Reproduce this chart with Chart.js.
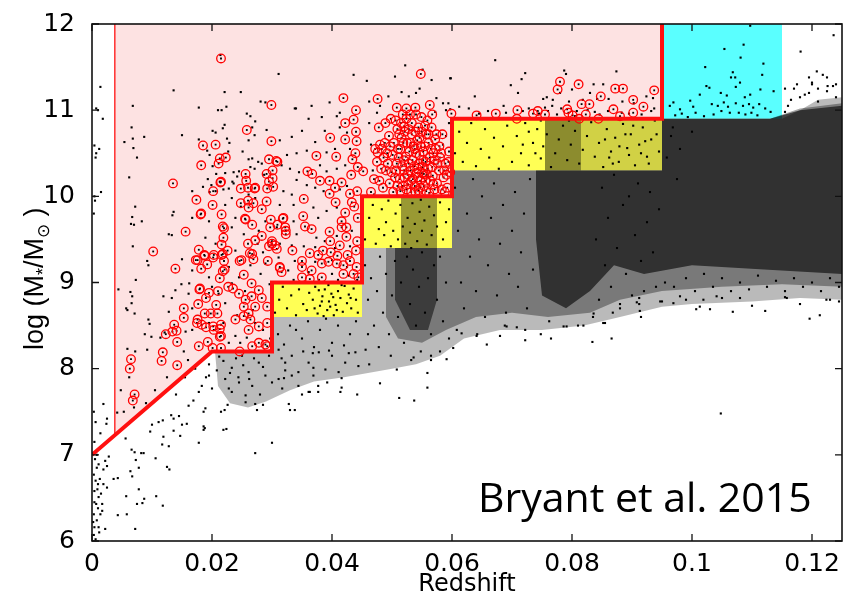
<!DOCTYPE html>
<html><head><meta charset="utf-8">
<script src="https://cdn.jsdelivr.net/npm/chart.js@4"></script>
<style>html,body{margin:0;padding:0;background:#fff}#wrap{width:852px;height:596px;position:relative}</style>
</head><body><div id="wrap"><canvas id="c"></canvas></div>
<script>
// ---------- axis ticks ----------
const redshiftTicks = [0, 0.02, 0.04, 0.06, 0.08, 0.1, 0.12];
const xTickLabels = ['0', '0.02', '0.04', '0.06', '0.08', '0.1', '0.12'];
const massTicks = [6, 7, 8, 9, 10, 11, 12];
const yTickLabels = ['6', '7', '8', '9', '10', '11', '12'];

// ---------- selection limit (red stepped line) ----------
const limitZ = [0, 0.02, 0.03, 0.03, 0.045, 0.045, 0.06, 0.06, 0.095, 0.095];
const limitM = [7, 8.2, 8.2, 9, 9, 10, 10, 10.9, 10.9, 12];
// pink selection region
const pinkZ = [0.0038, 0.0038, 0.02, 0.03, 0.03, 0.045, 0.045, 0.06, 0.06, 0.095, 0.095, 0.0038];
const pinkM = [12, 7.23, 8.2, 8.2, 9, 9, 10, 10, 10.9, 10.9, 12, 12];
const edgeZ = [0.0038, 0.0038];
const edgeM = [7.23, 12];
// filler boxes [z0, z1, m0, m1]
const yellowBoxes = [[0.03, 0.045, 8.6, 9.0], [0.045, 0.06, 9.4, 10.0], [0.06, 0.095, 10.3, 10.9]];
const cyanBox = [0.095, 0.115, 10.9, 12];

// ---------- density envelopes of the parent sample ----------
const outerEnv = [[0.0205,8.2],[0.03,8.2],[0.03,8.6],[0.045,8.6],[0.045,9.4],[0.06,9.4],[0.06,10.3],[0.095,10.3],[0.095,10.9],[0.115,10.9],[0.118,11.0],[0.121,11.12],[0.125,11.15],
  [0.125,8.8],[0.118,8.82],[0.11,8.78],[0.1,8.75],[0.095,8.72],[0.088,8.6],[0.082,8.5],[0.075,8.45],[0.068,8.45],[0.062,8.35],[0.058,8.15],[0.054,8.05],[0.05,8.0],[0.046,7.95],[0.042,7.9],[0.037,7.85],[0.033,7.75],[0.029,7.62],[0.026,7.55],[0.023,7.6],[0.021,7.8]];
const midEnv = [[0.049,9.4],[0.06,9.4],[0.06,10.3],[0.095,10.3],[0.095,10.9],[0.113,10.9],[0.118,11.02],[0.125,11.08],
  [0.125,8.95],[0.115,8.98],[0.105,8.95],[0.095,8.9],[0.088,8.8],[0.083,8.65],[0.076,8.6],[0.07,8.65],[0.064,8.6],[0.059,8.45],[0.055,8.3],[0.051,8.35],[0.049,8.6]];
const innerRight = [[0.074,10.3],[0.095,10.3],[0.095,10.9],[0.113,10.9],[0.118,11.0],[0.125,11.05],
  [0.125,9.1],[0.112,9.15],[0.1,9.2],[0.092,9.1],[0.087,9.2],[0.083,8.9],[0.079,8.7],[0.075,8.85],[0.074,9.5]];
const innerCol54 = [[0.0505,9.4],[0.0575,9.4],[0.0575,8.8],[0.056,8.45],[0.053,8.45],[0.0505,8.8]];
const yellowCol54 = [[0.0515,9.4],[0.0575,9.4],[0.0575,10.0],[0.0515,10.0]];
const yellowCol78 = [[0.0755,10.3],[0.0815,10.3],[0.0815,10.9],[0.0755,10.9]];
const yellowRight = [[0.0815,10.3],[0.095,10.3],[0.095,10.9],[0.0815,10.9]];

// ---------- individual galaxies (black) ----------
const galaxies = [
[.0003,6.77],[.0006,6.70],[.001,6.66],[.0004,6.58],[.0011,6.51],[.0007,6.43],[.0017,6.43],[.0003,6.31],[.0008,6.24],[.0004,6.16],[.0003,6.07],[.0011,6.16],[.0022,6.14],[.0014,6.31],[.0019,6.66],[.0025,6.62],[.0022,6.93],[.0011,6.89],[.0025,6.87],[.0028,6.98],[.0019,6.83],[.0005,6.95],[.0008,6.85],[.0015,6.55],[.0004,6.45],[.001,6.38],[.0017,6.35],[.0006,6.02],[.0012,6.1],[.0002,6.22],[.0009,6.6],[.0013,6.72],[.0006,7.38],[.0019,7.59],[.0025,7.42],[.0024,7.36],[.0004,7.15],[.0008,7.0],[.0014,7.25],[.0003,7.5],
[.0014,11.27],[.0007,11.02],[.0004,10.59],[.0007,10.5],[.0004,10.0],[.0012,10.55],[.0003,9.8],[.0005,9.95],[.0015,10.05],[.0006,10.45],[.001,11.0],[.0018,10.9],
[.0043,6.73],[.0036,6.72],[.0043,6.30],[.0057,6.52],[.0064,6.81],[.0067,6.75],[.0073,6.94],[.0078,6.60],[.0072,6.14],[.0075,6.43],[.0084,6.44],[.0087,6.49],[.0086,7.02],[.0082,7.02],[.0106,6.96],[.0107,6.52],[.0118,6.41],[.0117,7.12],[.0129,6.83],[.0125,6.86],[.0128,7.10],[.0097,7.27],[.0119,7.21],[.0136,7.28],[.0147,7.22],[.0150,7.35],[.0158,7.36],[.0186,7.33],[.0186,7.29],[.0178,7.14],[.0186,7.50],[.0169,7.63],[.0178,7.73],[.0161,7.57],[.0136,7.42],[.0145,7.45],[.0132,7.46],[.0111,7.38],[.0118,7.40],[.0100,7.35],[.0056,7.19],[.0066,7.06],[.0071,7.03],[.0053,7.50],[.0042,7.49],[.0078,6.85],[.0058,6.31],[.0062,7.9],[.0048,7.75],[.0070,7.55],[.0090,7.6],[.0105,7.75],[.0125,7.9],[.0140,7.7],[.0155,7.9],[.0172,8.0],[.0160,8.1],[.0190,7.9],[.0195,8.05],
[.0072,9.88],[.0067,9.76],[.0065,9.68],[.0070,9.67],[.0083,9.71],[.0068,9.42],[.0092,9.25],[.0094,9.20],[.0073,9.03],[.0044,8.92],[.0064,8.89],[.0067,8.84],[.0066,8.76],[.0059,8.68],[.0071,8.64],[.0057,8.70],[.0094,8.57],[.0096,8.52],[.0088,8.40],[.0099,8.37],[.0059,8.23],[.0072,8.20],[.0114,8.36],[.0119,8.84],[.0133,8.82],[.0136,9.82],[.0134,9.78],[.0128,9.56],[.0133,9.55],[.0150,9.27],[.0149,8.98],[.0139,8.91],[.0162,8.99],[.0128,8.66],[.0156,8.43],[.0167,8.45],[.0153,8.20],[.0092,8.22],[.0121,8.42],
[.0068,11.05],[.0066,10.80],[.0068,10.67],[.0054,10.63],[.0087,10.69],[.0069,10.56],[.0075,10.45],[.0062,10.22],[.0136,11.23],[.0150,10.71],[.0178,11.03],[.0210,11.0],[.0216,11.0],[.0221,11.21],[.0224,11.04],[.0248,11.21],[.0221,10.83],[.0218,10.79],[.0206,10.74],[.0214,11.64],[.0258,10.96],[.0264,10.93],[.0272,10.87],[.0267,10.80],[.0271,10.71],[.0261,10.65],[.0281,11.10],[.0289,11.09],[.0291,10.77],[.0178,10.66],[.0192,10.53],[.0196,10.48],[.0201,10.76],[.0225,10.67],[.0229,10.62],[.0227,10.52],[.0251,10.52],[.0261,10.43],[.0267,10.44],[.0264,10.34],[.0277,10.40],[.0271,10.32],[.0283,10.38],[.0287,10.25],[.0245,10.29],[.0236,10.28],[.0222,10.27],[.0207,10.26],[.0213,10.17],[.0234,10.17],[.0242,10.23],[.0201,10.35],[.0193,10.2],[.0185,10.11],[.0199,10.13],[.0196,10.05],[.0219,10.08],[.0228,10.09],[.0236,10.15],
[.0233,8.99],[.0245,9.06],[.0228,9.18],[.0239,9.37],[.0253,9.56],[.0233,9.64],[.0239,9.75],[.0222,9.90],[.0233,9.98],[.0261,10.02],[.0272,9.98],[.0289,9.71],[.0278,9.60],[.0289,9.22],[.0281,9.10],[.0272,8.53],[.0239,8.38],[.0228,8.30],[.0247,8.30],[.0219,8.53],[.0222,8.76],[.0211,8.87],[.0200,8.95],[.0195,9.06],[.0167,9.14],[.0161,8.87],[.0167,8.70],[.0195,8.53],[.0206,9.45],[.0189,9.52],[.0195,9.71],[.0206,10.06],[.0167,9.75],[.0167,10.06],[.0255,8.9],[.0268,8.68],[.0285,8.45],[.0297,8.35],[.0242,8.62],[.0258,8.36],[.0285,9.35],[.0264,9.2],[.0296,8.98],[.0248,9.88],[.0276,9.45],
[.0219,8.09],[.0233,8.01],[.0250,8.15],[.0261,7.96],[.0278,8.07],[.0289,7.92],[.0267,7.80],[.0256,7.69],[.0256,7.61],[.0233,7.73],[.0222,7.88],[.0208,7.98],[.0200,7.77],[.0189,7.54],[.0188,7.31],[.0221,7.52],[.0226,7.58],[.0215,7.50],[.0219,7.29],[.0224,7.30],[.0272,7.59],[.0285,7.58],[.0275,7.52],[.0300,7.14],[.0272,7.02],[.0300,7.84],[.0295,8.15],[.0245,7.84],[.0244,7.9],[.0228,7.77],[.0195,7.92],[.0183,7.80],[.0240,8.12],[.0270,8.12],[.0285,8.02],[.0262,7.88],[.0212,8.14],[.0230,7.95],[.0252,8.04],[.0280,7.7],
[.0311,8.22],[.0322,8.07],[.0333,8.15],[.0344,7.96],[.0361,8.07],[.0378,8.19],[.0389,7.99],[.0400,8.15],[.0411,7.96],[.0422,8.07],[.0439,8.19],[.0444,8.03],[.0456,8.22],[.0344,7.80],[.0361,7.73],[.0414,7.73],[.0442,7.70],[.0328,7.59],[.0330,7.52],[.0338,7.52],[.0350,7.70],[.0363,7.73],[.0377,7.73],[.0416,7.78],[.0333,7.92],[.0311,7.88],[.0317,7.77],[.0392,7.84],[.0369,7.92],[.0322,7.98],[.0320,7.89],[.0369,8.01],[.0416,7.89],[.0377,7.80],[.0316,8.12],[.0352,8.2],[.0368,8.18],[.0395,8.21],[.0428,8.18],
[.031,8.4],[.033,8.5],[.035,8.35],[.036,8.55],[.038,8.45],[.040,8.3],[.041,8.5],[.043,8.4],[.044,8.55],[.032,8.28],[.037,8.25],[.042,8.27],[.039,8.58],[.034,8.45],
[.0305,8.65],[.0312,8.8],[.0318,8.95],[.0325,8.7],[.0332,8.85],[.034,8.62],[.0345,8.92],[.0352,8.75],[.0358,8.68],[.0362,8.88],[.0368,8.8],[.0372,8.95],[.0376,8.64],[.038,8.73],[.0384,8.84],[.0388,8.92],[.0392,8.68],[.0395,8.78],[.0399,8.87],[.0403,8.62],[.0406,8.74],[.041,8.9],[.0414,8.82],[.0418,8.66],[.0421,8.96],[.0425,8.76],[.0428,8.86],[.0432,8.7],[.0436,8.93],[.044,8.8],[.0443,8.65],[.0386,8.61],[.0378,8.91],[.0394,8.97],[.0402,8.83],[.0371,8.7],[.0383,8.78],[.0408,8.68],[.0416,8.97],[.0431,8.82],[.0397,8.72],
[.0311,11.42],[.0458,11.34],[.0436,11.41],[.0338,11.02],[.0361,10.90],[.0383,10.92],[.0388,10.76],[.0350,10.76],[.0333,10.69],[.0313,10.65],[.0408,10.93],[.0413,10.80],[.0425,10.74],[.0372,10.63],[.0358,10.53],[.0341,10.50],[.0325,10.48],[.0316,10.36],[.0330,10.32],[.0345,10.28],[.0380,10.36],[.0391,10.29],[.0408,10.32],[.0422,10.36],[.0391,10.51],[.0405,10.55],[.0430,10.55],[.0341,10.19],[.0358,10.13],[.0372,10.10],[.0386,10.06],[.0413,10.08],[.0425,10.12],[.0319,10.06],[.0333,10.02],[.0313,9.90],[.0336,9.90],[.0369,9.87],[.0391,9.83],[.0408,9.87],[.0377,9.75],[.0336,9.71],[.0308,9.64],[.0341,9.56],[.0374,9.52],[.0388,9.48],[.0408,9.54],[.0433,9.60],[.0313,9.45],[.0333,9.43],[.0353,9.42],[.0372,9.41],[.0405,9.40],[.0430,9.42],[.0311,9.29],[.0338,9.25],[.0372,9.24],[.0400,9.26],[.0425,9.18],[.0327,9.14],[.0361,9.12],[.0400,9.10],[.0428,9.08],[.0336,9.03],[.0378,9.03],[.0410,9.03],[.0442,9.03],[.0340,11.02],[.0366,11.05],[.0396,11.09],[.0413,10.97],[.0505,11.39],[.0566,11.35],[.0597,11.37],[.0546,11.25],[.0540,11.20],[.0516,11.21],[.0528,11.16],[.0494,11.16],[.0475,10.97],[.0574,11.14],[.0585,11.08],[.0522,11.52],[.0551,11.47],[.0672,11.58],[.0480,11.05],[.0462,11.1],[.0590,11.0],[.0572,10.98],[.0468,10.3],[.0465,10.6],[.0462,10.85],[.059,10.7],[.0595,10.85],[.0585,10.6],[.047,10.02],
[.0455,9.5],[.0462,9.75],[.0468,9.9],[.0473,9.45],[.0478,9.62],[.0483,9.85],[.0487,9.55],[.049,9.7],[.0494,9.95],[.0498,9.42],[.0502,9.6],[.0506,9.8],[.051,9.5],[.0514,9.9],[.0518,9.65],[.0522,9.45],[.0526,9.75],[.053,9.58],[.0534,9.92],[.0538,9.68],[.0542,9.48],[.0546,9.82],[.055,9.6],[.0554,9.72],[.0558,9.44],[.0562,9.88],[.0566,9.55],[.057,9.78],[.0575,9.65],[.058,9.93],[.0585,9.5],[.059,9.7],[.0595,9.85],[.0548,9.96],[.0532,9.4],
[.0455,9.2],[.046,8.8],[.0465,9.05],[.047,8.5],[.0475,8.9],[.048,9.3],[.0485,8.65],[.049,9.1],[.0495,8.4],[.05,8.85],[.0505,9.25],[.051,8.6],[.0515,9.0],[.052,8.3],[.0525,9.3],[.053,8.75],[.0535,9.15],[.054,8.5],[.0545,8.95],[.055,9.35],[.0555,8.65],[.056,9.05],[.0565,8.4],[.057,9.2],[.0575,8.8],[.058,9.3],[.0585,8.55],[.059,9.0],[.0595,8.35],[.0548,8.2],[.0532,8.1],[.0565,8.15],[.0498,8.15],[.0478,8.25],[.046,8.4],
[.0605,10.1],[.061,9.6],[.0615,9.0],[.062,8.7],[.0625,9.8],[.063,9.3],[.0635,10.2],[.064,8.9],[.0645,9.5],[.065,10.0],[.0655,8.6],[.066,9.2],[.0665,9.75],[.067,10.15],[.0675,8.85],[.068,9.45],[.0685,9.9],[.069,8.65],[.0695,9.1],[.07,9.6],[.0705,10.05],[.071,8.95],[.0715,9.35],[.072,9.8],[.0725,8.7],[.073,10.2],[.0735,9.15],[.084,9.5],[.0845,8.8],[.085,10.1],[.0855,9.2],[.086,9.75],[.0865,8.95],[.087,10.25],[.0875,9.4],[.088,8.75],[.0885,9.9],[.089,9.1],[.0895,10.0],[.09,8.85],[.0905,9.55],[.091,10.15],[.0915,9.25],[.092,8.9],[.0925,9.7],[.093,10.05],[.0935,9.35],[.094,8.95],[.0945,9.85],[.0608,8.45],[.0642,8.4],[.0688,8.5],[.0722,8.45],[.0762,8.55],[.081,8.5],[.0835,8.6],[.0868,8.65],[.0912,8.75],
[.0605,10.5],[.0612,10.75],[.0618,10.4],[.0625,10.62],[.0632,10.85],[.064,10.35],[.0648,10.55],[.0655,10.78],[.0662,10.45],[.067,10.68],[.0678,10.32],[.0685,10.58],[.0692,10.82],[.07,10.4],[.0708,10.7],[.0715,10.5],[.0722,10.85],[.0728,10.36],[.0735,10.62],[.0742,10.78],[.0748,10.44],[.0752,10.58],[.0758,10.72],[.0765,10.34],[.0772,10.5],[.0778,10.66],[.0785,10.82],[.0792,10.42],[.0798,10.6],[.0805,10.76],[.0812,10.38],[.0818,10.54],[.0825,10.7],[.0832,10.86],[.0838,10.46],[.0845,10.62],[.0852,10.34],[.0858,10.78],[.0865,10.52],[.0872,10.68],[.0878,10.4],[.0885,10.84],[.0892,10.56],[.0898,10.72],[.0905,10.36],[.0912,10.6],[.0918,10.8],[.0925,10.46],[.0932,10.66],[.0938,10.88],[.0945,10.52],[.0842,10.9],[.0868,10.38],[.0895,10.48],[.0922,10.64],[.0748,10.88],[.0795,10.88],[.0718,10.6],[.0728,10.75],[.0739,10.5],[.0862,10.45],[.0879,10.58],[.0902,10.82],[.0928,10.38],[.0941,10.72],[.0855,10.66],[.0889,10.72],[.0915,10.5],
[.0598,11.37],[.0638,11.16],[.0698,11.29],[.0710,11.20],[.0722,11.43],[.0716,11.36],[.0752,11.13],[.0758,11.15],[.0768,11.12],[.0787,11.46],[.0790,11.42],[.0800,11.24],[.0830,11.20],[.0836,11.30],[.0852,11.30],[.0842,11.13],[.0861,11.13],[.0874,11.45],[.0884,11.10],[.0903,11.08],[.0924,11.16],[.0935,11.14],[.0937,11.02],[.0597,11.01],[.0594,11.08],[.0612,11.04],[.0628,11.02],[.0645,10.96],[.0660,10.99],[.0686,11.05],[.0690,10.97],[.0718,10.99],[.0728,11.02],[.0745,10.96],[.0760,10.99],[.0767,11.05],[.0782,11.02],[.0808,10.99],[.0826,11.0],[.0838,10.98],[.0860,10.99],[.0883,10.97],[.0895,10.96],[.0916,10.95],[.0932,10.99],[.0780,11.20],[.0795,11.10],[.0775,10.95],[.0805,10.93],[.0818,11.12],[.0846,10.95],[.0755,11.03],
[.1054,11.71],[.1086,11.76],[.1081,11.61],[.1022,11.50],[.1119,11.54],[.1068,11.44],[.1065,11.38],[.1072,11.38],[.1080,11.32],[.1073,11.27],[.1024,11.28],[.1029,11.26],[.1117,11.41],[.1136,11.22],[.1114,11.24],[.1097,11.18],[.1088,11.15],[.1058,11.17],[.1048,11.20],[.1013,11.18],[.0997,11.11],[.0969,11.09],[.0963,11.05],[.0980,11.01],[.1002,11.04],[.1033,11.07],[.1043,11.05],[.1053,11.09],[.1060,11.04],[.1073,11.08],[.1085,11.05],[.1095,11.07],[.1102,11.03],[.1112,11.07],[.1122,11.02],[.1131,10.98],[.1006,10.97],[.1036,10.95],[.1049,10.99],[.1063,10.97],[.1078,10.97],[.1089,10.95],[.1099,10.97],[.1109,10.94],[.1020,10.93],[.0983,10.96],[.0993,10.92],[.0972,10.94],[.1181,11.68],[.1236,11.87],[.1208,11.45],[.1218,11.41],[.1195,11.38],[.1240,11.30],[.1200,11.30],[.1175,11.30],[.1155,11.25],[.1210,11.25],[.1226,11.28],[.1188,11.18],[.1165,11.12],[.1097,11.98],
[.0955,9.0],[.097,8.95],[.099,9.05],[.1005,8.9],[.102,9.1],[.1035,8.95],[.105,9.05],[.1065,8.9],[.108,9.0],[.1095,8.92],[.111,9.08],[.1125,8.95],[.114,9.02],[.1155,8.9],[.117,9.05],[.1185,8.95],[.12,9.0],[.1215,8.9],[.123,9.05],[.1245,8.95],[.116,11.05],[.118,11.15],[.1195,11.2],[.121,11.1],[.1225,11.22],[.124,11.15],[.117,11.25],[.1235,11.28],[.12,11.32],[.1225,11.38],[.1155,10.98],[.0965,10.7],[.098,10.55],[.0968,10.8],[.1,10.75],[.0958,10.45],[.0975,10.2],
[.0480,7.83],[.0512,7.66],[.0537,7.63],[.0559,7.78],[.0559,7.95],[.0508,7.99],[.0462,8.05],[.0591,8.11],[.0580,8.20],[.0565,8.1],[.0536,8.13],[.0722,8.33],[.0658,8.28],[.0641,8.38],[.0616,8.41],[.0602,8.24],[.0691,8.49],[.0708,8.48],[.0786,8.49],[.0834,8.31],[.0866,8.35],[.1196,8.58],[.1213,8.62],[.1048,7.48],[.1122,8.67],[.1068,8.66],[.1030,8.69],[.1007,8.69],[.0947,8.78],[.0913,8.67],[.0852,8.53],[.0819,8.50],[.0791,8.49],[.1155,8.83],[.1224,8.80],[.1245,8.78],[.1080,8.82],[.1050,8.82],[.1019,8.80],[.0980,8.84],[.0912,8.82],[.0880,8.70],[.0836,8.64],[.1013,8.72],[.0969,8.76],[.0950,8.78],[.0908,8.77],[.0915,8.6],[.0855,8.53],[.1158,8.82],[.1230,8.80],[.1180,8.75],[.1100,8.73],[.1041,8.84],[.0990,8.8],[.0748,8.4],[.0765,8.35],[.0680,8.38]
];

// ---------- selected (red circled) galaxies ----------
const selected = [
[.0215,11.60],[.0258,10.77],[.0299,11.06],[.0185,10.59],[.0206,10.60],[.0223,10.45],[.0213,10.44],[.0211,10.38],[.0182,10.36],[.0135,10.15],[.0214,10.16],[.0256,10.26],[.0257,10.18],[.0248,10.09],[.0260,10.10],[.0271,10.09],[.0202,10.06],[.0292,10.09],[.0295,10.43],[.0291,10.26],[.0299,10.64],[.0295,10.17],
[.0174,9.96],[.0201,9.90],[.0181,9.79],[.0156,9.59],[.0102,9.36],[.0139,9.16],[.0216,9.79],[.0218,9.65],[.0219,9.52],[.0255,9.74],[.0261,9.87],[.0283,9.85],[.0283,9.54],[.0260,9.45],[.0267,9.33],[.0295,9.42],[.0178,9.38],[.0187,9.32],[.0192,9.21],[.0182,9.16],[.0173,9.26],[.0203,9.32],[.0216,9.32],[.0226,9.37],[.0218,9.13],[.0246,9.25],[.0253,9.09],[.0179,8.92],[.0190,8.82],[.0177,8.75],[.0207,8.74],[.0209,8.64],[.0198,8.64],[.0153,8.70],[.0153,8.59],[.0134,8.43],[.0141,8.44],[.0142,8.31],[.0118,8.19],[.0065,8.11],[.0176,8.57],[.0183,8.51],[.0190,8.48],[.0203,8.45],[.0213,8.37],[.0213,8.46],[.0193,8.31],[.0178,8.26],[.0201,8.24],[.0215,8.24],[.0239,8.57],[.0253,8.61],[.0264,8.57],[.0261,8.45],[.0278,8.49],[.0292,8.53],[.0278,8.30],[.0267,8.26],[.0246,8.20],[.0292,8.26],[.0266,8.99],[.0278,8.91],[.0283,8.82],[.0266,8.84],[.0292,8.72],[.0272,8.72],[.0256,8.80],[.0261,8.64],[.0245,8.87],[.0253,8.72],
[.0063,8.00],[.0116,8.09],[.0142,8.04],[.0071,7.70],[.0068,7.63],[.0289,8.28],[.0123,8.40],[.0137,8.51],[.0175,8.53],[.0188,8.64],[.0202,8.49],[.0215,8.51],[.0215,8.38],
[.0182,9.80],[.0215,10.17],[.0307,10.41],[.0301,10.30],[.0301,10.21],[.0302,10.11],[.0272,10.10],[.0248,9.92],[.0260,9.95],[.0269,9.92],[.0291,9.94],[.0256,9.73],[.0267,9.67],[.0298,9.73],[.0297,9.64],[.0309,9.67],[.0319,9.75],[.0323,9.60],[.0272,9.49],[.0300,9.45],[.0308,9.39],[.0334,9.37],[.0249,9.26],[.0263,9.34],[.0269,9.27],[.0293,9.25],[.0313,9.18],[.0221,9.15],[.0220,9.25],[.0218,9.33],[.0216,9.44],[.0220,9.63],[.0176,9.26],[.0188,9.31],[.0202,9.29],[.0213,9.05],[.0227,8.95],[.0180,8.93],[.0195,8.88],[.0210,8.9],[.0235,8.93],
[.0548,11.42],[.0419,11.14],[.0476,11.13],[.0508,11.03],[.0524,11.02],[.0539,11.03],[.0563,11.06],[.0599,10.96],[.0440,11.00],[.0436,10.89],[.0422,10.85],[.0440,10.75],[.0422,10.66],[.0397,10.68],[.0441,10.64],[.0520,10.81],[.0374,10.47],[.0407,10.46],[.0439,10.50],[.0434,10.43],[.0476,10.51],[.0483,10.55],[.0309,10.40],[.0359,10.29],[.0367,10.26],[.0380,10.18],[.0396,10.18],[.0416,10.16],[.0432,10.25],[.0443,10.34],[.0452,10.29],[.0442,10.06],[.0430,10.03],[.0396,10.03],[.0405,10.10],[.0353,9.97],[.0406,9.93],[.0433,9.93],[.0422,9.81],[.0437,9.88],[.0443,9.75],[.0416,9.71],[.0416,9.64],[.0424,9.64],[.0352,9.77],[.0355,9.65],[.0366,9.62],[.0318,9.74],[.0322,9.64],[.0323,9.56],[.0396,9.59],[.0424,9.53],[.0442,9.48],[.0397,9.48],[.0413,9.43],[.0363,9.34],[.0377,9.32],[.0385,9.37],[.0398,9.35],[.0409,9.31],[.0426,9.32],[.0440,9.37],[.0350,9.25],[.0350,9.18],[.0366,9.14],[.0383,9.22],[.0394,9.24],[.0408,9.22],[.0419,9.20],[.0430,9.25],[.0441,9.18],[.0419,9.10],[.0436,9.10],[.0444,9.06],[.0383,9.06],[.0350,9.06],[.0363,9.04],[.0316,9.12],[.0313,9.17],[.0305,9.43],[.0300,9.48],
[.0673,10.96],[.0709,11.00],[.0708,10.90],[.0735,10.96],[.0743,10.99],[.0755,10.95],[.0780,11.33],[.0776,11.24],[.0811,11.30],[.0792,11.01],[.0794,10.97],[.0801,10.94],[.0816,11.07],[.0829,11.07],[.0823,10.95],[.0812,10.90],[.0844,10.90],[.0848,11.16],[.0872,11.25],[.0885,11.25],[.0902,11.12],[.0869,11.01],[.0880,10.93],[.0902,10.97],[.0919,11.04],[.0937,11.23],[.0641,10.94],
[.0465,10.05],[.047,10.2],[.0475,10.4],[.048,10.6],[.0478,10.8],[.0485,10.1],[.049,10.3],[.0492,10.5],[.0495,10.7],[.0498,10.9],[.0502,10.05],[.0505,10.22],[.0508,10.38],[.051,10.55],[.0512,10.72],[.0515,10.85],[.0518,10.12],[.052,10.3],[.0523,10.46],[.0525,10.62],[.0528,10.78],[.053,10.95],[.0532,10.05],[.0535,10.2],[.0537,10.35],[.054,10.5],[.0542,10.65],[.0544,10.8],[.0547,10.1],[.055,10.27],[.0552,10.42],[.0555,10.58],[.0557,10.72],[.0559,10.88],[.0562,10.04],[.0564,10.18],[.0567,10.34],[.0569,10.5],[.0572,10.66],[.0575,10.15],[.0578,10.3],[.058,10.45],[.0583,10.08],[.0586,10.22],[.0589,10.38],[.0592,10.1],[.0595,10.52],[.0597,10.28],[.0527,10.14],[.0541,10.27],[.0553,10.12],[.0519,10.62],[.0533,10.72],[.0549,10.92],[.0561,10.62],[.0506,10.88],[.0496,10.15],[.0486,10.45],[.0513,10.2],[.0539,10.05],[.0558,10.25],[.0571,10.42],[.0524,10.9],[.0536,10.58],[.0545,10.38],[.0566,10.8],[.0503,10.62],[.0482,10.32],[.0472,10.55],
[.0511,10.45],[.0529,10.52],[.0546,10.48],[.0563,10.45],[.0517,10.35],[.0534,10.42],[.0551,10.34],[.0568,10.24],[.0521,10.22],[.0538,10.12],[.0556,10.18],[.0573,10.55],[.0509,10.12],[.0526,10.25],[.0543,10.22],[.0560,10.32],[.0531,10.3],[.0548,10.58],[.0516,10.68],[.0533,10.85],[.0550,10.75],[.0501,10.48],[.0488,10.62],[.0579,10.58],[.0584,10.72],[.0591,10.25],[.0499,10.28],[.0489,10.85],[.0540,10.95],[.0567,10.95],
[.0514,10.06],[.0524,10.08],[.0544,10.07],[.0557,10.06],[.0571,10.08],[.0588,10.05],[.0507,10.3],[.0528,10.38],[.0542,10.32],[.0556,10.4],[.0576,10.38],[.0594,10.4],[.0514,10.55],[.0538,10.55],[.0552,10.52],[.0565,10.55],[.0582,10.5],[.0497,10.58],[.0521,10.75],[.0539,10.75],[.0555,10.82],[.0574,10.72],[.0509,10.78],[.0546,10.68],[.0531,10.62],[.0518,10.95],[.0561,10.72],[.0493,10.38],[.0479,10.18],[.0569,10.14],[.0587,10.3],[.0553,10.26],[.0532,10.18],[.0547,10.18],[.0520,10.42]
];

// ---------- helpers building library data from the arrays ----------
const zip = (zs, ms) => zs.map((z, i) => ({x: z, y: ms[i]}));
const pts = arr => arr.map(p => ({x: p[0], y: p[1]}));
const ring = arr => pts(arr.concat([arr[0]]));
const boxPts = b => ring([[b[0], b[2]], [b[1], b[2]], [b[1], b[3]], [b[0], b[3]]]);
const area = (data, color, order) => ({data, showLine: true, fill: 'shape', backgroundColor: color, borderColor: 'rgba(0,0,0,0)', borderWidth: 0, pointRadius: 0, order, tension: 0});

const datasets = [
  {data: zip(limitZ, limitM), showLine: true, fill: false, borderColor: '#ff1010', borderWidth: 4, pointRadius: 0, order: 0, borderJoinStyle: 'miter'},
  {data: pts(selected), showLine: false, pointRadius: 4.3, pointStyle: 'circle', borderColor: '#ff0000', borderWidth: 1.3, backgroundColor: 'rgba(0,0,0,0)', order: 1},
  {data: pts(selected), showLine: false, pointRadius: 1.3, pointStyle: 'rect', borderWidth: 0, backgroundColor: '#000', order: 2},
  {data: pts(galaxies), showLine: false, pointRadius: 1.5, pointStyle: 'rect', borderWidth: 0, backgroundColor: '#000', order: 3},
  area(ring(innerRight), 'rgba(0,0,0,0.6)', 4),
  area(ring(innerCol54), 'rgba(0,0,0,0.5)', 4),
  area(ring(yellowCol54), 'rgba(0,0,0,0.4)', 4),
  area(ring(yellowCol78), 'rgba(0,0,0,0.45)', 4),
  area(ring(yellowRight), 'rgba(0,0,0,0.18)', 4),
  area(ring(midEnv), 'rgba(0,0,0,0.35)', 5),
  area(ring(outerEnv), 'rgba(0,0,0,0.27)', 6),
  {data: zip(edgeZ, edgeM), showLine: true, fill: false, borderColor: '#ff3a3a', borderWidth: 1.6, pointRadius: 0, order: 7},
  area(boxPts(yellowBoxes[0]), 'rgb(255,255,85)', 8),
  area(boxPts(yellowBoxes[1]), 'rgb(255,255,85)', 8),
  area(boxPts(yellowBoxes[2]), 'rgb(255,255,85)', 8),
  area(boxPts(cyanBox), 'rgb(90,255,255)', 8),
  area(zip(pinkZ, pinkM), 'rgb(253,226,226)', 9)
];

const decor = {
  id: 'decor',
  afterDatasetsDraw(chart) {
    const {ctx, chartArea: a, scales: {x, y}} = chart;
    ctx.save();
    ctx.strokeStyle = '#111';
    ctx.lineWidth = 1.6;
    ctx.strokeRect(a.left, a.top, a.right - a.left, a.bottom - a.top);
    ctx.lineWidth = 1.3;
    ctx.beginPath();
    x.ticks.forEach(t => { const p = x.getPixelForValue(t.value);
      ctx.moveTo(p, a.bottom); ctx.lineTo(p, a.bottom - 7); ctx.moveTo(p, a.top); ctx.lineTo(p, a.top + 7); });
    y.ticks.forEach(t => { const p = y.getPixelForValue(t.value);
      ctx.moveTo(a.left, p); ctx.lineTo(a.left + 7, p); ctx.moveTo(a.right, p); ctx.lineTo(a.right - 7, p); });
    ctx.stroke();
    ctx.fillStyle = '#000';
    ctx.font = '24px "DejaVu Sans"';
    ctx.textAlign = 'center'; ctx.textBaseline = 'alphabetic';
    ctx.fillText('Redshift', 467, 591);
    ctx.save();
    ctx.translate(43, 350);
    ctx.rotate(-Math.PI / 2);
    ctx.textAlign = 'left';
    const parts = [['log (M', 27, 0], ['*', 18, 6], ['/M', 27, 0], ['\u2299', 17, 6], [' )', 27, 0]];
    let cx = 0;
    parts.forEach(([t, s, dy]) => { ctx.font = s + 'px "Liberation Sans"'; ctx.fillText(t, cx, dy); cx += ctx.measureText(t).width; });
    ctx.restore();
    ctx.font = '41px "Open Sans"';
    ctx.textAlign = 'left';
    ctx.fillText('Bryant et al. 2015', 478, 512);
    ctx.restore();
  }
};

new Chart(document.getElementById('c'), {
  type: 'line',
  data: {datasets},
  options: {
    responsive: true, maintainAspectRatio: false, animation: false, events: [],
    layout: {padding: {left: 0, right: 10, top: 17, bottom: 0}},
    plugins: {legend: {display: false}, tooltip: {enabled: false}, title: {display: false}},
    scales: {
      x: {type: 'linear', min: 0, max: 0.125,
        grid: {display: false}, border: {display: false},
        afterFit: s => { s.height = 55; },
        afterBuildTicks: s => { s.ticks = redshiftTicks.map(v => ({value: v})); },
        ticks: {padding: 0, color: '#000', font: {family: 'DejaVu Sans', size: 25}, maxRotation: 0, autoSkip: false,
          callback: v => { const i = redshiftTicks.findIndex(t => Math.abs(t - v) < 1e-9); return i >= 0 ? xTickLabels[i] : ''; }}},
      y: {type: 'linear', min: 6, max: 12,
        grid: {display: false}, border: {display: false},
        afterFit: s => { s.width = 92; },
        afterBuildTicks: s => { s.ticks = massTicks.map(v => ({value: v})); },
        ticks: {padding: 9, color: '#000', font: {family: 'DejaVu Sans', size: 25}, autoSkip: false,
          callback: v => { const i = massTicks.indexOf(v); return i >= 0 ? yTickLabels[i] : ''; }}}
    }
  },
  plugins: [decor]
});
</script>
</body></html>
